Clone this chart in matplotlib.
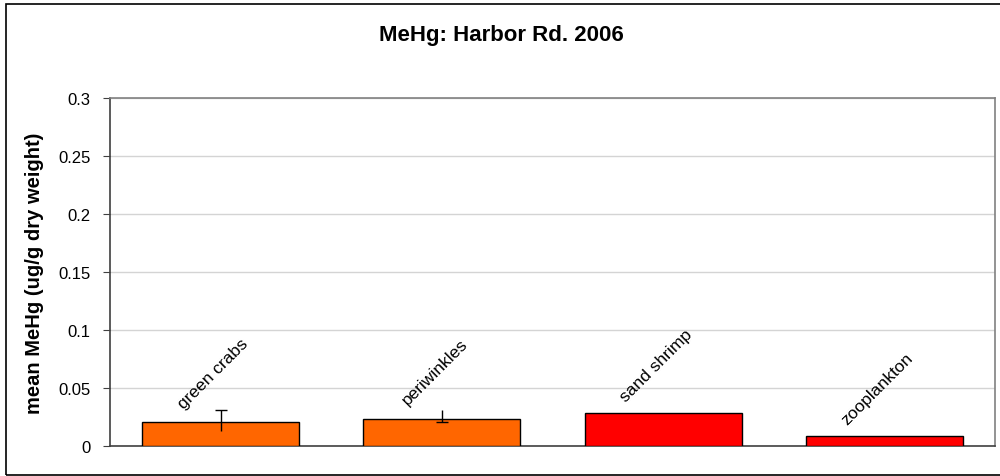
import matplotlib
matplotlib.use("Agg")
import matplotlib.pyplot as plt
from matplotlib.patches import Rectangle

plt.rcParams["font.family"] = ["Liberation Sans", "DejaVu Sans"]

# data
species = ["green crabs", "periwinkles", "sand shrimp", "zooplankton"]
mean_mehg = [0.021, 0.0233, 0.0284, 0.0086]
err_low = [0.008, 0.0026, 0.0, 0.0]
err_high = [0.010, 0.0077, 0.0, 0.0]
bar_colors = ["#FF6600", "#FF6600", "#FF0000", "#FF0000"]
yticks = [0, 0.05, 0.1, 0.15, 0.2, 0.25, 0.3]
ytick_labels = ["0", "0.05", "0.1", "0.15", "0.2", "0.25", "0.3"]

fig = plt.figure(figsize=(10, 4.77), dpi=100)
ax = fig.add_axes([0.11, 0.063, 0.885, 0.73])

x = list(range(len(species)))
ax.bar(x, mean_mehg, width=0.71, color=bar_colors, edgecolor="black",
       linewidth=1, zorder=3)

# error bars (Excel style: line, cap only on one end)
ax.errorbar(x, mean_mehg, yerr=[err_low, err_high], fmt="none",
            ecolor="black", elinewidth=1, capsize=0, zorder=4)
ax.plot([x[0]], [mean_mehg[0] + err_high[0]], marker="_", ms=9,
        mew=1, color="black", zorder=4)
ax.plot([x[1]], [mean_mehg[1] - err_low[1]], marker="_", ms=9,
        mew=1, color="black", zorder=4)

# rotated category labels above the bars
for xi, name, val in zip(x, species, mean_mehg):
    ax.annotate(name, (xi, val), xytext=(-7, 48), textcoords="offset pixels",
                rotation=45, ha="center", va="center", fontsize=12.5)

ax.set_xlim(-0.5, len(species) - 0.5)
ax.set_ylim(0, 0.3)
ax.set_yticks(yticks)
ax.set_yticklabels(ytick_labels, fontsize=12)
ax.set_xticks([])
ax.tick_params(axis="y", direction="out", length=5, color="#404040", pad=9)
ax.yaxis.grid(True, color="#d4d4d4", linewidth=1)
ax.set_axisbelow(True)

for side in ["left", "bottom"]:
    ax.spines[side].set_color("#404040")
    ax.spines[side].set_linewidth(1.2)
for side in ["right", "top"]:
    ax.spines[side].set_color("#808080")
    ax.spines[side].set_linewidth(1.2)

ax.set_ylabel("mean MeHg (ug/g dry weight)", fontsize=14.5, fontweight="bold",
              labelpad=10)

fig.text(0.501, 0.925, "MeHg: Harbor Rd. 2006", ha="center", va="center",
         fontsize=16, fontweight="bold")

# chart frame
fig.patches.append(Rectangle((0.006, 0.002), 1.2, 0.987, transform=fig.transFigure,
                             fill=False, edgecolor="black", linewidth=1.2))

fig.savefig("out.png", dpi=100)
